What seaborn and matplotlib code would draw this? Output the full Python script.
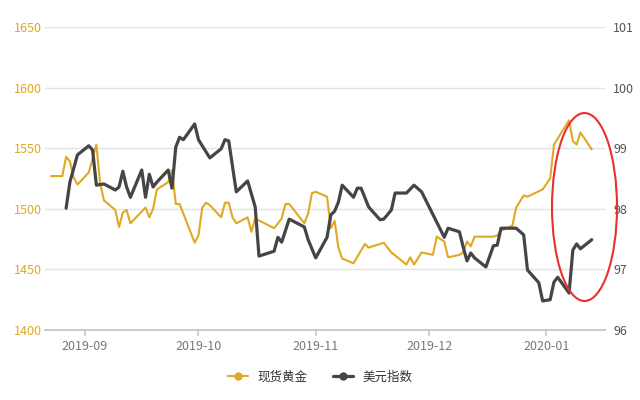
import matplotlib
matplotlib.use("Agg")
import matplotlib.pyplot as plt
from matplotlib.patches import Ellipse
from matplotlib.lines import Line2D
import seaborn as sns
import pandas as pd

gold_dates = ["2019-08-23","2019-08-26","2019-08-27","2019-08-28","2019-08-29","2019-08-30","2019-09-02","2019-09-04","2019-09-05","2019-09-06",
 "2019-09-09","2019-09-10","2019-09-11","2019-09-12","2019-09-13","2019-09-17","2019-09-18","2019-09-19","2019-09-20","2019-09-23",
 "2019-09-24","2019-09-25","2019-09-26","2019-09-30","2019-10-01","2019-10-02","2019-10-03","2019-10-04","2019-10-07","2019-10-08",
 "2019-10-09","2019-10-10","2019-10-11","2019-10-14","2019-10-15","2019-10-16","2019-10-21","2019-10-23","2019-10-24","2019-10-25",
 "2019-10-29","2019-10-30","2019-10-31","2019-11-01","2019-11-04","2019-11-05","2019-11-06","2019-11-07","2019-11-08","2019-11-11",
 "2019-11-14","2019-11-15","2019-11-19","2019-11-21","2019-11-25","2019-11-26","2019-11-27","2019-11-29","2019-12-02","2019-12-03",
 "2019-12-05","2019-12-06","2019-12-09","2019-12-10","2019-12-11","2019-12-12","2019-12-13","2019-12-18","2019-12-19","2019-12-20",
 "2019-12-23","2019-12-24","2019-12-26","2019-12-27","2019-12-31","2020-01-02","2020-01-03","2020-01-07","2020-01-08","2020-01-09",
 "2020-01-10","2020-01-13"]
gold_values = [1527,1527,1543,1539,1526,1520,1530,1553,1521,1507,
 1499,1485,1497,1499,1488,1501,1493,1500,1516,1522,
 1532,1504,1504,1472,1478,1501,1505,1503,1493,1505,
 1505,1493,1488,1493,1481,1492,1484,1492,1504,1504,
 1488,1496,1513,1514,1510,1484,1490,1468,1459,1455,
 1471,1468,1472,1464,1454,1460,1454,1464,1462,1477,
 1473,1460,1462,1464,1473,1469,1477,1477,1478,1482,
 1486,1501,1511,1510,1516,1525,1553,1573,1556,1553,
 1563,1549]

dxy_dates = ["2019-08-27","2019-08-28","2019-08-30","2019-09-02","2019-09-03","2019-09-04","2019-09-06","2019-09-09","2019-09-10","2019-09-11",
 "2019-09-12","2019-09-13","2019-09-16","2019-09-17","2019-09-18","2019-09-19","2019-09-20","2019-09-23","2019-09-24","2019-09-25",
 "2019-09-26","2019-09-27","2019-09-30","2019-10-01","2019-10-04","2019-10-07","2019-10-08","2019-10-09","2019-10-11","2019-10-14",
 "2019-10-16","2019-10-17","2019-10-21","2019-10-22","2019-10-23","2019-10-25","2019-10-29","2019-10-30","2019-11-01","2019-11-04",
 "2019-11-05","2019-11-06","2019-11-07","2019-11-08","2019-11-11","2019-11-12","2019-11-13","2019-11-15","2019-11-18","2019-11-19",
 "2019-11-21","2019-11-22","2019-11-25","2019-11-27","2019-11-29","2019-12-05","2019-12-06","2019-12-09","2019-12-10","2019-12-11",
 "2019-12-12","2019-12-13","2019-12-16","2019-12-18","2019-12-19","2019-12-20","2019-12-24","2019-12-26","2019-12-27","2019-12-30",
 "2019-12-31","2020-01-02","2020-01-03","2020-01-04","2020-01-07","2020-01-08","2020-01-09","2020-01-10","2020-01-13"]
dxy_values = [98.01,98.44,98.89,99.04,98.97,98.39,98.41,98.31,98.36,98.62,
 98.36,98.19,98.64,98.19,98.57,98.36,98.44,98.64,98.34,99.02,
 99.18,99.14,99.40,99.14,98.84,98.99,99.14,99.12,98.28,98.46,
 98.03,97.22,97.30,97.53,97.45,97.83,97.70,97.49,97.19,97.53,
 97.90,97.96,98.11,98.39,98.19,98.34,98.34,98.03,97.82,97.83,
 97.98,98.26,98.26,98.39,98.28,97.53,97.68,97.62,97.37,97.14,
 97.27,97.19,97.04,97.39,97.40,97.68,97.68,97.57,96.99,96.78,
 96.48,96.50,96.79,96.87,96.61,97.32,97.42,97.34,97.49]

left_ticks = [1400,1450,1500,1550,1600,1650]
right_ticks = [96,97,98,99,100,101]
month_ticks = ["2019-09-01","2019-10-01","2019-11-01","2019-12-01","2020-01-01"]
month_labels = ["2019-09","2019-10","2019-11","2019-12","2020-01"]
series_names = ["现货黄金", "美元指数"]

GOLD = "#E0A823"
DARK = "#454545"

sns.set_theme(style="white")
plt.rcParams['font.family'] = ['Noto Sans CJK SC', 'DejaVu Sans']

gdf = pd.DataFrame({"date": pd.to_datetime(gold_dates), "v": gold_values})
ddf = pd.DataFrame({"date": pd.to_datetime(dxy_dates), "v": dxy_values})

fig = plt.figure(figsize=(6.4, 4.0), dpi=100)
ax = fig.add_axes([45/640, 1-330/400, 560/640, 303/400])
ax2 = ax.twinx()

sns.lineplot(data=gdf, x="date", y="v", ax=ax, color=GOLD, lw=1.5, legend=False)
sns.lineplot(data=ddf, x="date", y="v", ax=ax2, color=DARK, lw=2.3, legend=False)

ax.set_ylim(1400, 1650)
ax2.set_ylim(96, 101)
ax.set_yticks(left_ticks)
ax2.set_yticks(right_ticks)
ax.set_xlim(pd.Timestamp("2019-08-21 10:00"), pd.Timestamp("2020-01-16 12:00"))
ax.set_xticks(pd.to_datetime(month_ticks))
ax.set_xticklabels(month_labels)
ax.set_xlabel(""); ax.set_ylabel(""); ax2.set_ylabel("")
ax.yaxis.grid(True, color="#e3e3e3", lw=1)
ax.set_axisbelow(True)
for a in (ax, ax2):
    for s in ("left", "right", "top"):
        a.spines[s].set_visible(False)
    a.spines["bottom"].set_color("#cccccc")
ax.tick_params(axis="y", colors=GOLD, labelsize=9, length=0, pad=2)
ax2.tick_params(axis="y", colors="#555555", labelsize=9, length=0, pad=6)
ax.tick_params(axis="x", colors="#777777", labelsize=9, length=4, color="#cccccc", bottom=True)

ell = Ellipse((584.5/640, 1-207/400), 65/640, 188/400, transform=fig.transFigure,
              fill=False, edgecolor="#e8302f", lw=1.5)
fig.patches.append(ell)

handles = [Line2D([], [], color=GOLD, lw=1.5, marker="o", markersize=5),
           Line2D([], [], color=DARK, lw=2.3, marker="o", markersize=5)]
leg = fig.legend(handles, series_names, loc="center", bbox_to_anchor=(0.5, 1-377/400), ncol=2,
           frameon=False, fontsize=9, handlelength=1.6, columnspacing=2)
for t in leg.get_texts():
    t.set_color("#333333")

fig.savefig("out.png", dpi=100)
